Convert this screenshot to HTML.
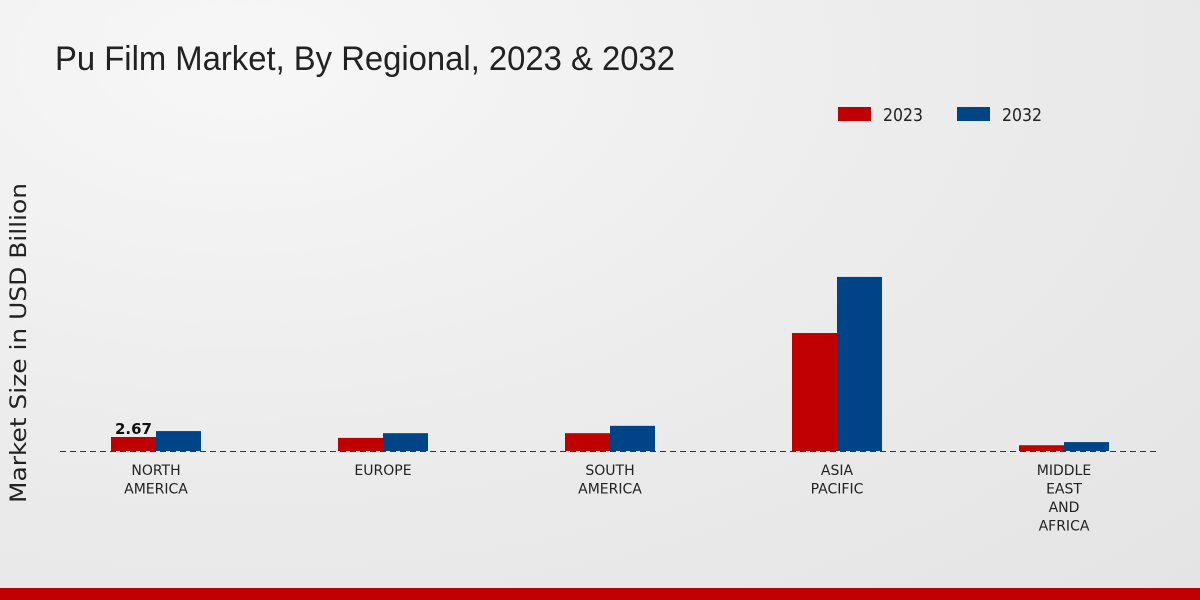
<!DOCTYPE html>
<html><head><meta charset="utf-8"><style>
html,body{margin:0;padding:0;width:1200px;height:600px;overflow:hidden;}
body{background:radial-gradient(ellipse at 20% 10%,#f7f7f7 0%,#ececec 50%,#e4e4e4 100%);font-family:"Liberation Sans","DejaVu Sans",sans-serif;}
</style></head><body>
<svg id="chart" width="1200" height="600" xmlns="http://www.w3.org/2000/svg">
<text x="55" y="70" font-size="34" fill="#222" textLength="620" lengthAdjust="spacingAndGlyphs" font-family="Liberation Sans, sans-serif">Pu Film Market, By Regional, 2023 &amp; 2032</text>
<text transform="translate(26,343) rotate(-90)" text-anchor="middle" font-size="22" fill="#222" font-family="DejaVu Sans, sans-serif" textLength="320" lengthAdjust="spacingAndGlyphs">Market Size in USD Billion</text>
<g>
<rect x="838" y="107" width="33" height="14" fill="#c00000"/>
<text x="883" y="121" font-size="18" fill="#222" font-family="DejaVu Sans, sans-serif" textLength="40" lengthAdjust="spacingAndGlyphs">2023</text>
<rect x="957" y="107" width="33" height="14" fill="#004488"/>
<text x="1002" y="121" font-size="18" fill="#222" font-family="DejaVu Sans, sans-serif" textLength="40" lengthAdjust="spacingAndGlyphs">2032</text>
</g>
<g id="marks"></g>
<line x1="60" y1="451.5" x2="1160" y2="451.5" stroke="#333" stroke-dasharray="6,4" stroke-width="1"/>
<g id="xlabels"></g>
<rect x="0" y="588" width="1200" height="12" fill="#c00000"/>
</svg>
<script>
const categories=[["NORTH","AMERICA"],["EUROPE"],["SOUTH","AMERICA"],["ASIA","PACIFIC"],["MIDDLE","EAST","AND","AFRICA"]];
const values2023=[2.67,2.5,3.4,22.5,1.1];
const values2032=[3.8,3.4,4.8,33.2,1.7];
const labelIndex=0;
const ns="http://www.w3.org/2000/svg";
const base=451, pxPerUnit=14/2.67, x0=156, step=227, bw=45;
const y=v=>base-v*pxPerUnit;
const marks=document.getElementById('marks'), xl=document.getElementById('xlabels');
function mk(t,a){const e=document.createElementNS(ns,t);for(const k in a)e.setAttribute(k,a[k]);return e;}
categories.forEach((c,i)=>{
  const cx=x0+i*step;
  const r1=mk('rect',{x:cx-bw,y:y(values2023[i]),width:bw,height:base-y(values2023[i]),fill:'#c00000'});
  
  
  marks.appendChild(r1);
  const r2=mk('rect',{x:cx,y:y(values2032[i]),width:bw,height:base-y(values2032[i]),fill:'#004488'});
  
  
  marks.appendChild(r2);
  if(i===labelIndex){
    const t=mk('text',{x:cx-bw/2,y:y(values2023[i])-3,'text-anchor':'middle','font-size':'15','font-weight':'bold',fill:'#111','font-family':'DejaVu Sans, sans-serif'});
    t.textContent=values2023[i].toFixed(2);
    
    
    marks.appendChild(t);
  }
  c.forEach((line,j)=>{
    const t=mk('text',{x:cx,y:475+j*18.5,'text-anchor':'middle','font-size':'14',fill:'#222','font-family':'DejaVu Sans, sans-serif'});
    t.textContent=line;
    
    
    xl.appendChild(t);
  });
});
</script>
</body></html>
